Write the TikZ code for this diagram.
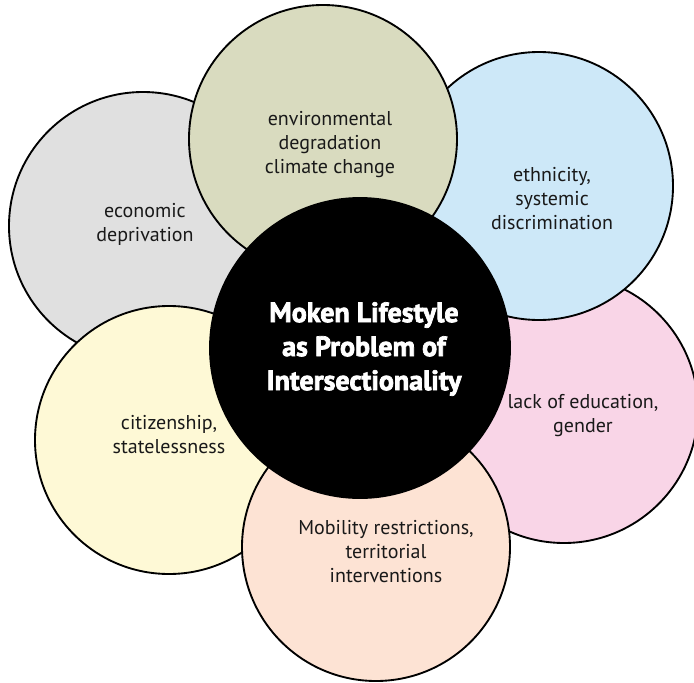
\documentclass[tikz,border=0pt]{standalone}
\usepackage{fontspec}
\setmainfont{PT Sans}
\newfontfamily\titlefont[FakeBold=2.6]{PT Sans Bold}
\definecolor{grayfill}{HTML}{E0E0E0}
\definecolor{greenfill}{HTML}{D9DBBF}
\definecolor{bluefill}{HTML}{CDE8F8}
\definecolor{pinkfill}{HTML}{F9D5E7}
\definecolor{peachfill}{HTML}{FDE3D4}
\definecolor{yellowfill}{HTML}{FEF9D6}
\tikzset{
  bubble/.style={circle,draw=black,line width=1.4pt,minimum size=268*0.75pt,inner sep=0pt},
  issue/.style={align=center,inner sep=0.75pt,font=\fontsize{15}{18}\selectfont,text=black!90},
}
\begin{document}
\begin{tikzpicture}[x=0.75pt,y=0.75pt,yscale=-1]
		\useasboundingbox (0,0) rectangle (694,683);

		% outer circles, back to front
		\node [bubble,fill=grayfill] (econ) at (143,226) {};
		\node [bubble,fill=pinkfill] (educ) at (564,409) {};
		\node [bubble,fill=bluefill] (ethn) at (539,186) {};
		\node [bubble,fill=greenfill] (envi) at (323,139) {};
		\node [bubble,fill=yellowfill] (citi) at (169,440) {};
		\node [bubble,fill=peachfill] (mobi) at (376,547) {};

		% centre
		\node [bubble,fill=black,minimum size=300*0.75pt] (core) at (360,348) {};

		\node [issue] (econtxt) at (145,224) {economic\\deprivation};
		\node [issue] (envitxt) at (330,145) {environmental\\degradation\\climate change};
		\node [issue] (ethntxt) at (552,199) {ethnicity,\\systemic\\discrimination};
		\node [issue] (eductxt) at (583,416) {lack of education,\\gender};
		\node [issue] (mobitxt) at (386,552) {Mobility restrictions,\\territorial\\interventions};
		\node [issue] (cititxt) at (169,435) {citizenship,\\statelessness};
		\node [align=center,text=white,font=\titlefont\fontsize{21}{25.5}\selectfont] (coretxt) at (364,349) {Moken Lifestyle\\as Problem of\\Intersectionality};
\end{tikzpicture}
\end{document}
